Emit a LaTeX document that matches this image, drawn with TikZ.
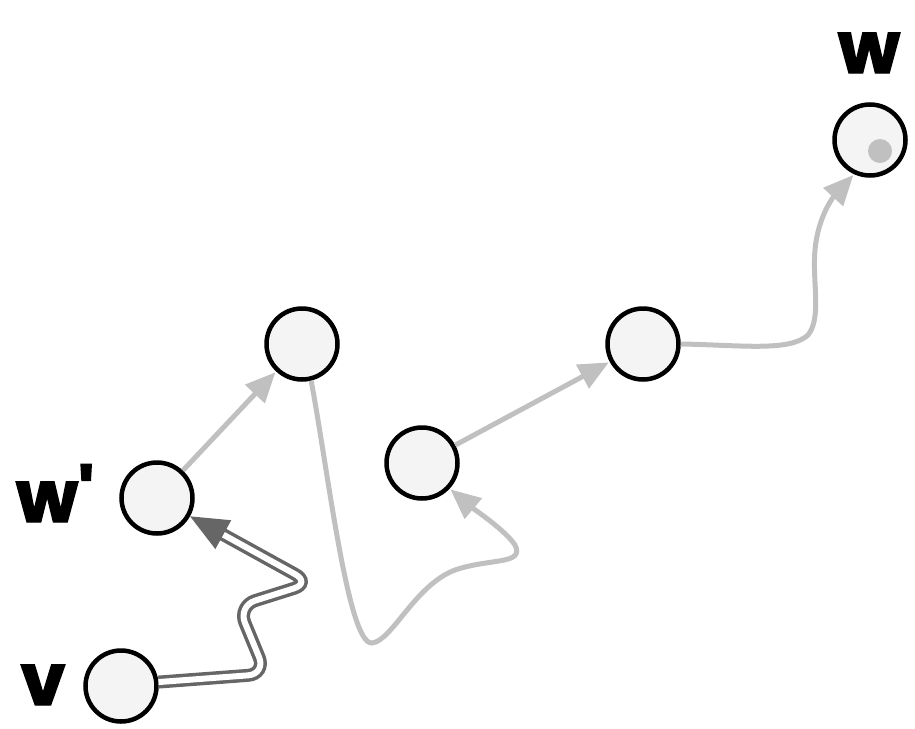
\documentclass[tikz,border=0pt]{standalone}
\usepackage{fontspec}
\setsansfont{Poppins}[Ligatures=TeXOff,BoldFeatures={FakeBold=2}]
\usetikzlibrary{arrows.meta}
\definecolor{nodefill}{HTML}{F4F4F4}
\definecolor{lightedge}{HTML}{C0C0C0}
\definecolor{darkedge}{HTML}{666666}
\begin{document}
\begin{tikzpicture}[x=1pt,y=-1pt,
  vert/.style={circle,draw=black,line width=4.5pt,fill=nodefill,minimum size=71pt,inner sep=0pt},
  lab/.style={font=\sffamily\bfseries\fontsize{72}{72}\selectfont,anchor=base,inner sep=0pt},
  gedge/.style={draw=lightedge,line width=5pt,-{Triangle[length=30pt,width=26pt]},shorten >=1pt},
  dedge/.style={draw=darkedge,line width=3.5pt,double=white,double distance=6pt,
     -{Triangle[length=38pt,width=32pt]},rounded corners=18pt}]
\useasboundingbox (0,0) rectangle (915,728);
\node[vert] (v) at (121,686) {};
\node[vert] (wp) at (157,498) {};
\node[vert] (a) at (302,344) {};
\node[vert] (b) at (422,463) {};
\node[vert] (c) at (643,344) {};
\node[vert] (w) at (870,140) {};
\fill[lightedge] (880,151) circle (12pt);
\node[lab] (lv) at (43,705) {v};
\node[lab] (lwp) at (55,522) {w'};
\node[lab] (lw) at (869,73) {w};
\draw[gedge] (wp) -- (a);
\draw[gedge] (b) -- (c);
\draw[gedge] (a.-76) .. controls (328,470) and (348,645) .. (372,643)
  .. controls (392,641) and (415,585) .. (455,570)
  .. controls (490,558) and (525,565) .. (515,545)
  .. controls (505,530) and (475,510) .. (b.-43);
\draw[gedge] (c.east) .. controls (740,345) and (790,352) .. (808,335)
  .. controls (822,318) and (812,280) .. (815,250)
  .. controls (818,215) and (835,195) .. (w.-115);
\draw[dedge] (v.6) -- (266,674) -- (238,606) -- (311,583) -- (wp.-29);
\end{tikzpicture}
\end{document}
